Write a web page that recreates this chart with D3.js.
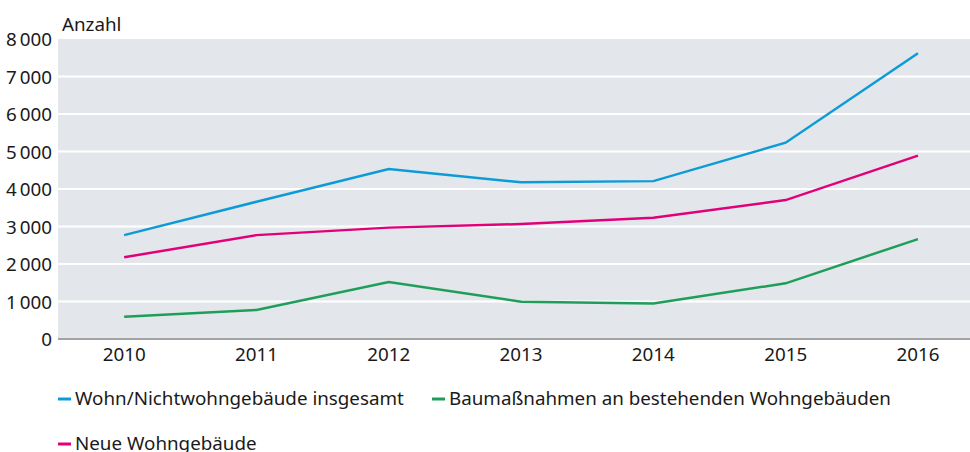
<!DOCTYPE html>
<html>
<head>
	<meta charset="utf-8">
	<script src="https://cdn.jsdelivr.net/npm/d3@7"></script>
	<style>
		body { margin: 0; background: white; }
		text { font-family: "Source Sans Pro", "Noto Sans", sans-serif; fill: #1a1a1a; }
	</style>
</head>
<body>
	<script>
		// data
		var years = ["2010", "2011", "2012", "2013", "2014", "2015", "2016"];
		var insgesamt = [2770, 3660, 4530, 4180, 4210, 5235, 7620];
		var neue = [2180, 2770, 2970, 3065, 3235, 3705, 4890];
		var baumassnahmen = [595, 775, 1520, 995, 950, 1485, 2665];
		var yTicks = [0, 1000, 2000, 3000, 4000, 5000, 6000, 7000, 8000];

		var series = [
			{ name: "Wohn/Nichtwohngebäude insgesamt", values: insgesamt, color: "#0d9bd7" },
			{ name: "Baumaßnahmen an bestehenden Wohngebäuden", values: baumassnahmen, color: "#1f9e5a" },
			{ name: "Neue Wohngebäude", values: neue, color: "#e2007a" }
		];

		var width = 970, height = 452;
		var plotLeft = 58, plotTop = 39, plotBottom = 339;
		var fontSize = "18.8px";

		var svg = d3.select("body").append("svg")
			.attr("width", width)
			.attr("height", height);

		var x = d3.scaleBand()
			.domain(years)
			.range([plotLeft, plotLeft + 7 * 132.3]);

		var y = d3.scaleLinear()
			.domain([0, 8000])
			.range([plotBottom, plotTop]);

		var fmt = function(d) { return d3.format(",")(d).replace(",", "\u2009"); };

		// plot background
		svg.append("rect")
			.attr("x", plotLeft)
			.attr("y", plotTop)
			.attr("width", width - plotLeft)
			.attr("height", plotBottom - plotTop)
			.attr("fill", "#e3e7eb");

		// gridlines
		svg.append("g")
			.selectAll("line")
			.data(yTicks.filter(function(d) { return d > 0 && d < 8000; }))
			.join("line")
			.attr("x1", plotLeft)
			.attr("x2", width)
			.attr("y1", function(d) { return y(d); })
			.attr("y2", function(d) { return y(d); })
			.attr("stroke", "white")
			.attr("stroke-width", 2);

		// y axis labels
		var yAxis = svg.append("g")
			.attr("transform", "translate(" + (plotLeft - 6) + ",0)")
			.call(d3.axisLeft(y).tickValues(yTicks).tickFormat(fmt).tickSize(0).tickPadding(0));
		yAxis.select(".domain").remove();
		yAxis.selectAll("text")
			.style("font-size", fontSize)
			.attr("dy", "0.35em");

		// baseline
		svg.append("line")
			.attr("x1", plotLeft)
			.attr("x2", width)
			.attr("y1", plotBottom)
			.attr("y2", plotBottom)
			.attr("stroke", "#a3a3a3")
			.attr("stroke-width", 2);

		// x axis labels
		var xAxis = svg.append("g")
			.attr("transform", "translate(0," + plotBottom + ")")
			.call(d3.axisBottom(x).tickSize(0).tickPadding(9));
		xAxis.select(".domain").remove();
		xAxis.selectAll("text").style("font-size", fontSize);

		// axis title
		svg.append("text")
			.attr("x", 62)
			.attr("y", 31)
			.style("font-size", fontSize)
			.text("Anzahl");

		// lines
		var line = d3.line()
			.x(function(d, i) { return x(years[i]) + x.bandwidth() / 2; })
			.y(function(d) { return y(d); });

		svg.append("g")
			.selectAll("path")
			.data(series)
			.join("path")
			.attr("d", function(s) { return line(s.values); })
			.attr("fill", "none")
			.attr("stroke", function(s) { return s.color; })
			.attr("stroke-width", 2.5);

		// legend
		var legendPos = [[58, 399], [432, 399], [58, 444]];
		var legend = svg.append("g")
			.selectAll("g")
			.data(series)
			.join("g")
			.attr("transform", function(s, i) { return "translate(" + legendPos[i][0] + "," + legendPos[i][1] + ")"; });
		legend.append("line")
			.attr("x1", 0)
			.attr("x2", 13)
			.attr("stroke", function(s) { return s.color; })
			.attr("stroke-width", 3);
		legend.append("text")
			.attr("x", 17)
			.attr("y", 6)
			.style("font-size", fontSize)
			.text(function(s) { return s.name; });
	</script>
</body>
</html>
